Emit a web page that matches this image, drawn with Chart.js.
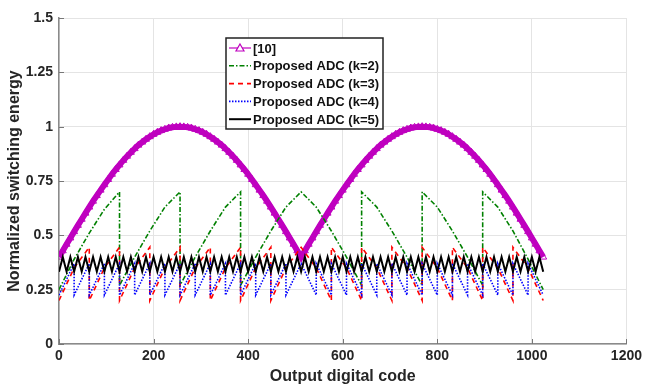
<!DOCTYPE html>
<html>
<head>
<meta charset="utf-8">
<script src="https://cdn.jsdelivr.net/npm/chart.js@4.4.1/dist/chart.umd.min.js"></script>
<style>
  html, body { margin: 0; padding: 0; background: #fff; }
  #wrap { width: 646px; height: 387px; }
</style>
</head>
<body>
<div id="wrap"><canvas id="myChart" width="646" height="387"></canvas></div>
<script>
// output codes sampled every 8 codes ([10] and k=5 curves)
const codes8 = [
  0, 8, 16, 24, 32, 40, 48, 56, 64, 72, 80, 88, 96, 104, 112, 120,
  128, 136, 144, 152, 160, 168, 176, 184, 192, 200, 208, 216, 224, 232, 240, 248,
  256, 264, 272, 280, 288, 296, 304, 312, 320, 328, 336, 344, 352, 360, 368, 376,
  384, 392, 400, 408, 416, 424, 432, 440, 448, 456, 464, 472, 480, 488, 496, 504,
  512, 520, 528, 536, 544, 552, 560, 568, 576, 584, 592, 600, 608, 616, 624, 632,
  640, 648, 656, 664, 672, 680, 688, 696, 704, 712, 720, 728, 736, 744, 752, 760,
  768, 776, 784, 792, 800, 808, 816, 824, 832, 840, 848, 856, 864, 872, 880, 888,
  896, 904, 912, 920, 928, 936, 944, 952, 960, 968, 976, 984, 992, 1000, 1008, 1016,
  1024
];

// [10]: two arches, 0.4 at the ends, 1.0 at codes 256 and 768
const energyRef10 = [
  0.400, 0.429, 0.459, 0.488, 0.517, 0.546, 0.574, 0.602, 0.630, 0.657, 0.683, 0.708, 0.733, 0.757, 0.781, 0.803,
  0.824, 0.845, 0.864, 0.882, 0.899, 0.915, 0.929, 0.942, 0.954, 0.965, 0.974, 0.982, 0.988, 0.994, 0.997, 0.999,
  1.000, 0.999, 0.997, 0.994, 0.988, 0.982, 0.974, 0.965, 0.954, 0.942, 0.929, 0.915, 0.899, 0.882, 0.864, 0.845,
  0.824, 0.803, 0.781, 0.757, 0.733, 0.708, 0.683, 0.657, 0.630, 0.602, 0.574, 0.546, 0.517, 0.488, 0.459, 0.429,
  0.400, 0.429, 0.459, 0.488, 0.517, 0.546, 0.574, 0.602, 0.630, 0.657, 0.683, 0.708, 0.733, 0.757, 0.781, 0.803,
  0.824, 0.845, 0.864, 0.882, 0.899, 0.915, 0.929, 0.942, 0.954, 0.965, 0.974, 0.982, 0.988, 0.994, 0.997, 0.999,
  1.000, 0.999, 0.997, 0.994, 0.988, 0.982, 0.974, 0.965, 0.954, 0.942, 0.929, 0.915, 0.899, 0.882, 0.864, 0.845,
  0.824, 0.803, 0.781, 0.757, 0.733, 0.708, 0.683, 0.657, 0.630, 0.602, 0.574, 0.546, 0.517, 0.488, 0.459, 0.429,
  0.400
];

// k=5: small zigzag between ~0.33 and ~0.40
const energyK5 = [
  0.333, 0.400, 0.333, 0.400, 0.333, 0.400, 0.333, 0.400, 0.333, 0.400, 0.333, 0.400, 0.333, 0.400, 0.333, 0.400,
  0.333, 0.400, 0.333, 0.400, 0.333, 0.400, 0.333, 0.400, 0.333, 0.400, 0.333, 0.400, 0.333, 0.400, 0.333, 0.400,
  0.333, 0.400, 0.333, 0.400, 0.333, 0.400, 0.333, 0.400, 0.333, 0.400, 0.333, 0.400, 0.333, 0.400, 0.333, 0.400,
  0.333, 0.400, 0.333, 0.400, 0.333, 0.400, 0.333, 0.400, 0.333, 0.400, 0.333, 0.400, 0.333, 0.400, 0.333, 0.400,
  0.333, 0.400, 0.333, 0.400, 0.333, 0.400, 0.333, 0.400, 0.333, 0.400, 0.333, 0.400, 0.333, 0.400, 0.333, 0.400,
  0.333, 0.400, 0.333, 0.400, 0.333, 0.400, 0.333, 0.400, 0.333, 0.400, 0.333, 0.400, 0.333, 0.400, 0.333, 0.400,
  0.333, 0.400, 0.333, 0.400, 0.333, 0.400, 0.333, 0.400, 0.333, 0.400, 0.333, 0.400, 0.333, 0.400, 0.333, 0.400,
  0.333, 0.400, 0.333, 0.400, 0.333, 0.400, 0.333, 0.400, 0.333, 0.400, 0.333, 0.400, 0.333, 0.400, 0.333, 0.400,
  0.333
];

// k=2: sawtooth, 128-code segments, mirrored after code 512
const codesK2 = [
  0, 32, 64, 96, 128, 128, 160, 192, 224, 256, 256, 288, 320, 352, 384, 384, 416, 448, 480, 512,
  544, 576, 608, 640, 640, 672, 704, 736, 768, 768, 800, 832, 864, 896, 896, 928, 960, 992, 1024
];
const energyK2 = [
  0.25, 0.39, 0.51, 0.62, 0.70, 0.27, 0.40, 0.52, 0.63, 0.70, 0.27, 0.40, 0.52, 0.63, 0.70, 0.27, 0.40, 0.52, 0.63, 0.70,
  0.63, 0.52, 0.40, 0.27, 0.70, 0.63, 0.52, 0.40, 0.27, 0.70, 0.63, 0.52, 0.40, 0.27, 0.70, 0.63, 0.52, 0.39, 0.25
];

// k=3: sawtooth, 64-code segments
const codesK3 = [
  0, 32, 64, 64, 96, 128, 128, 160, 192, 192, 224, 256, 256, 288, 320, 320, 352, 384, 384, 416, 448, 448, 480, 512,
  544, 576, 576, 608, 640, 640, 672, 704, 704, 736, 768, 768, 800, 832, 832, 864, 896, 896, 928, 960, 960, 992, 1024
];
const energyK3 = [
  0.20, 0.35, 0.445, 0.20, 0.35, 0.445, 0.20, 0.35, 0.445, 0.20, 0.35, 0.445,
  0.20, 0.35, 0.445, 0.20, 0.35, 0.445, 0.20, 0.35, 0.445, 0.20, 0.35, 0.445,
  0.35, 0.20, 0.445, 0.35, 0.20, 0.445, 0.35, 0.20, 0.445, 0.35, 0.20, 0.445, 0.35, 0.20,
  0.445, 0.35, 0.20, 0.445, 0.35, 0.20, 0.445, 0.35, 0.20
];

// k=4: sawtooth, 32-code segments
const codesK4 = [
  0, 32, 32, 64, 64, 96, 96, 128, 128, 160, 160, 192, 192, 224, 224, 256,
  256, 288, 288, 320, 320, 352, 352, 384, 384, 416, 416, 448, 448, 480, 480, 512,
  544, 544, 576, 576, 608, 608, 640, 640, 672, 672, 704, 704, 736, 736, 768,
  768, 800, 800, 832, 832, 864, 864, 896, 896, 928, 928, 960, 960, 992, 992, 1024
];
const energyK4 = [
  0.225, 0.37, 0.225, 0.37, 0.225, 0.37, 0.225, 0.37, 0.225, 0.37, 0.225, 0.37, 0.225, 0.37, 0.225, 0.37,
  0.225, 0.37, 0.225, 0.37, 0.225, 0.37, 0.225, 0.37, 0.225, 0.37, 0.225, 0.37, 0.225, 0.37, 0.225, 0.37,
  0.225, 0.37, 0.225, 0.37, 0.225, 0.37, 0.225, 0.37, 0.225, 0.37, 0.225, 0.37, 0.225, 0.37, 0.225,
  0.37, 0.225, 0.37, 0.225, 0.37, 0.225, 0.37, 0.225, 0.37, 0.225, 0.37, 0.225, 0.37, 0.225, 0.37, 0.225
];

const xTicks = [0, 200, 400, 600, 800, 1000, 1200];
const yTicks = [0, 0.25, 0.5, 0.75, 1, 1.25, 1.5];

const FONT = "Arial, 'Liberation Sans', sans-serif";
const TEXT = "#262626";

const toPoints = (xs, ys) => xs.map((x, i) => ({ x, y: ys[i] }));

// legend drawn inside the plot, MATLAB style
const legendBox = {
  id: "legendBox",
  afterDraw(chart) {
    const ctx = chart.ctx;
    const area = chart.chartArea;
    const left = area.left + 167;
    const top = area.top + 20;
    const w = 157;
    const h = 91;
    ctx.save();
    ctx.fillStyle = "#fff";
    ctx.fillRect(left, top, w, h);
    ctx.strokeStyle = "#222";
    ctx.lineWidth = 1.5;
    ctx.strokeRect(left, top, w, h);
    ctx.font = "bold 13px " + FONT;
    ctx.textBaseline = "middle";
    chart.data.datasets.forEach((ds, i) => {
      const y = top + 10 + i * 17.8;
      ctx.save();
      ctx.strokeStyle = ds.borderColor;
      ctx.lineWidth = ds.legendWidth;
      ctx.setLineDash(ds.borderDash || []);
      ctx.beginPath();
      ctx.moveTo(left + 3, y);
      ctx.lineTo(left + 25, y);
      ctx.stroke();
      if (ds.pointStyle === "triangle") {
        ctx.setLineDash([]);
        ctx.lineWidth = 1.2;
        ctx.fillStyle = "#fff";
        ctx.beginPath();
        ctx.moveTo(left + 14, y - 4);
        ctx.lineTo(left + 18, y + 3);
        ctx.lineTo(left + 10, y + 3);
        ctx.closePath();
        ctx.fill();
        ctx.stroke();
      }
      ctx.restore();
      ctx.fillStyle = "#111";
      ctx.fillText(ds.label, left + 27, y + 1);
    });
    ctx.restore();
  }
};

// small inward tick marks on the left and bottom axes
const innerTicks = {
  id: "innerTicks",
  beforeDatasetsDraw(chart) {
    const ctx = chart.ctx;
    const { x, y } = chart.scales;
    const area = chart.chartArea;
    ctx.save();
    ctx.strokeStyle = "#777";
    ctx.lineWidth = 1;
    xTicks.forEach((v) => {
      const px = Math.round(x.getPixelForValue(v)) + 0.5;
      ctx.beginPath();
      ctx.moveTo(px, area.bottom);
      ctx.lineTo(px, area.bottom - 5);
      ctx.stroke();
    });
    yTicks.forEach((v) => {
      const py = Math.round(y.getPixelForValue(v)) + 0.5;
      ctx.beginPath();
      ctx.moveTo(area.left, py);
      ctx.lineTo(area.left + 5, py);
      ctx.stroke();
    });
    ctx.restore();
  }
};

const ctx = document.getElementById("myChart").getContext("2d");

new Chart(ctx, {
  type: "line",
  data: {
    datasets: [
      {
        label: "[10]",
        data: toPoints(codes8, energyRef10),
        borderColor: "#bf00bf",
        backgroundColor: "rgba(0,0,0,0)",
        borderWidth: 6,
        legendWidth: 1.2,
        pointStyle: "triangle",
        pointRadius: 4,
        pointBorderWidth: 1,
        pointBorderColor: "#bf00bf",
        pointBackgroundColor: "rgba(0,0,0,0)",
        tension: 0,
        order: 5,
      },
      {
        label: "Proposed ADC (k=2)",
        data: toPoints(codesK2, energyK2),
        borderColor: "#008000",
        borderWidth: 1.6,
        legendWidth: 1.6,
        borderDash: [5, 2, 1.5, 2],
        pointRadius: 0,
        tension: 0,
        order: 4,
      },
      {
        label: "Proposed ADC (k=3)",
        data: toPoints(codesK3, energyK3),
        borderColor: "#ff0000",
        borderWidth: 1.6,
        legendWidth: 1.6,
        borderDash: [5, 4],
        pointRadius: 0,
        tension: 0,
        order: 3,
      },
      {
        label: "Proposed ADC (k=4)",
        data: toPoints(codesK4, energyK4),
        borderColor: "#0000ff",
        borderWidth: 1.6,
        legendWidth: 1.6,
        borderDash: [1.5, 1.5],
        pointRadius: 0,
        tension: 0,
        order: 2,
      },
      {
        label: "Proposed ADC (k=5)",
        data: toPoints(codes8, energyK5),
        borderColor: "#000000",
        borderWidth: 2,
        legendWidth: 2,
        pointRadius: 0,
        tension: 0,
        order: 1,
      },
    ],
  },
  options: {
    responsive: false,
    animation: false,
    devicePixelRatio: 1,
    layout: { padding: { top: 18, right: 16, left: 0, bottom: 0 } },
    scales: {
      x: {
        type: "linear",
        min: 0,
        max: 1200,
        afterBuildTicks: (s) => { s.ticks = xTicks.map((v) => ({ value: v })); },
        afterFit: (s) => { s.height = 43; },
        ticks: {
          font: { family: FONT, size: 14, weight: "bold" },
          color: TEXT,
          padding: 4,
          maxRotation: 0,
          callback: (v) => String(v),
        },
        grid: { color: "#e4e4e4", drawTicks: false },
        border: { color: "#8a8a8a", width: 1.5 },
        title: {
          display: true,
          text: "Output digital code",
          font: { family: FONT, size: 16, weight: "bold" },
          color: TEXT,
          padding: { top: 0, bottom: 1 },
        },
      },
      y: {
        min: 0,
        max: 1.5,
        afterBuildTicks: (s) => { s.ticks = yTicks.map((v) => ({ value: v })); },
        afterFit: (s) => { s.width = 59; },
        ticks: {
          font: { family: FONT, size: 14, weight: "bold" },
          color: TEXT,
          padding: 6,
          callback: (v) => String(v),
        },
        grid: { color: "#e4e4e4", drawTicks: false },
        border: { color: "#8a8a8a", width: 1.5 },
        title: {
          display: true,
          text: "Normalized switching energy",
          font: { family: FONT, size: 16, weight: "bold" },
          color: TEXT,
          padding: { top: 5, bottom: 0 },
        },
      },
    },
    plugins: {
      legend: { display: false },
      tooltip: { enabled: false },
    },
  },
  plugins: [innerTicks, legendBox],
});
</script>
</body>
</html>
